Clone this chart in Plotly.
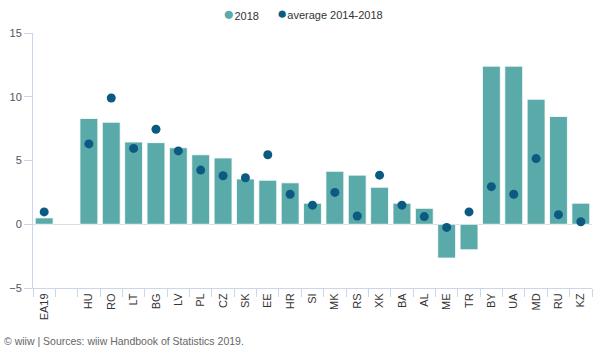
import plotly.graph_objects as go

categories = ["EA19", " ", "HU", "RO", "LT", "BG", "LV", "PL", "CZ", "SK", "EE", "HR",
              "SI", "MK", "RS", "XK", "BA", "AL", "ME", "TR", "BY", "UA", "MD", "RU", "KZ"]
values_2018 = [0.5, None, 8.3, 8.0, 6.45, 6.4, 6.0, 5.45, 5.2, 3.55, 3.45, 3.25,
               1.65, 4.15, 3.85, 2.9, 1.65, 1.25, -2.65, -2.0, 12.4, 12.4, 9.8, 8.45, 1.65]
values_avg = [0.97, None, 6.3, 9.9, 5.95, 7.45, 5.75, 4.25, 3.8, 3.65, 5.45, 2.35,
              1.5, 2.5, 0.65, 3.85, 1.5, 0.6, -0.25, 0.97, 2.95, 2.35, 5.15, 0.75, 0.2]
y_ticks = [-5, 0, 5, 10, 15]
series_names = ["2018", "average 2014-2018"]

BAR = "#5aaaaa"
DOT = "#0b5a82"
FONT = "Liberation Sans, Arial, sans-serif"

fig = go.Figure()
fig.add_trace(go.Bar(x=categories, y=values_2018, name=series_names[0], marker_color=BAR,
                     marker_line=dict(color="rgba(255,255,255,0.8)", width=1)))
fig.add_trace(go.Scatter(x=categories, y=values_avg, mode="markers", name=series_names[1],
                         marker=dict(color=DOT, size=9)))

fig.update_layout(
    width=600, height=350,
    margin=dict(l=33, r=8, t=33, b=62),
    paper_bgcolor="white", plot_bgcolor="white",
    font=dict(family=FONT, size=11, color="#333333"),
    bargap=0.2,
    showlegend=False,
)
fig.update_xaxes(type="category", categoryorder="array", categoryarray=categories,
                 range=[-0.5, len(categories) - 0.5],
                 tickangle=-90, tickson="boundaries", ticks="outside", ticklen=8,
                 tickcolor="#ccd6eb", showline=True, linecolor="#ccd6eb", linewidth=1,
                 showgrid=False, tickfont=dict(size=11, color="#333333"))
fig.update_yaxes(range=[-5, 15], tickvals=y_ticks, ticks="outside", ticklen=8,
                 tickcolor="#ccd6eb", showline=True, linecolor="#ccd6eb", linewidth=1,
                 showgrid=False, zeroline=True, zerolinecolor="#dddddd", zerolinewidth=1,
                 tickfont=dict(size=11, color="#555555"))

# legend drawn as text (circle symbols as in reference)
fig.add_annotation(text=f"<span style='color:{BAR};font-size:19px'>●</span>{series_names[0]}",
                   xref="paper", yref="paper", x=(221 - 33) / 559, y=1.0, yshift=20,
                   xanchor="left", yanchor="middle", showarrow=False,
                   font=dict(size=11, color="#333333"))
fig.add_annotation(text=f"<span style='color:{DOT};font-size:17px'>●</span>{series_names[1]}",
                   xref="paper", yref="paper", x=(275 - 33) / 559, y=1.0, yshift=20,
                   xanchor="left", yanchor="middle", showarrow=False,
                   font=dict(size=11, color="#333333"))

fig.add_annotation(text="© wiiw | Sources: wiiw Handbook of Statistics 2019.",
                   xref="paper", yref="paper", x=-0.055, y=0, xanchor="left", yanchor="top",
                   yshift=-45, showarrow=False, font=dict(size=10.5, color="#666666"))

fig.write_html("out.html")
